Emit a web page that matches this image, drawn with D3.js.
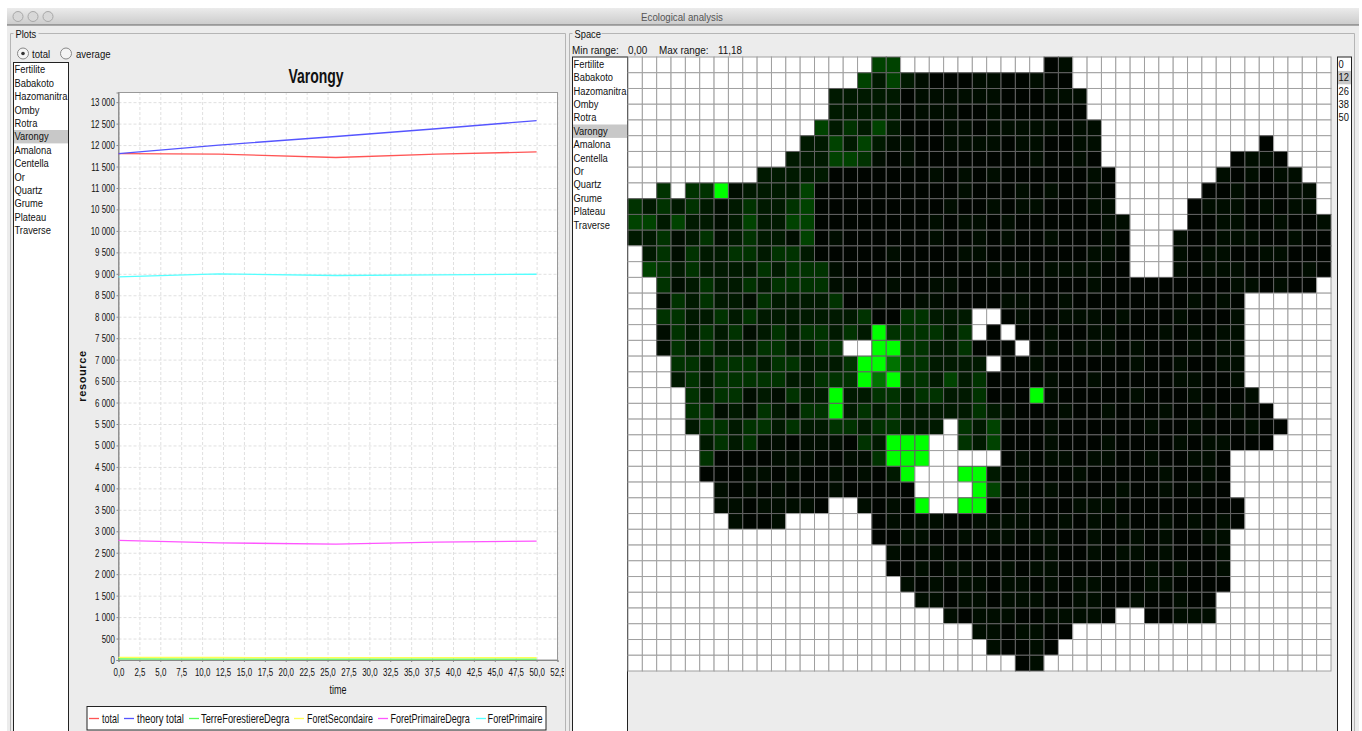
<!DOCTYPE html>
<html>
	<head>
		<meta charset="utf-8">
		<script src="https://d3js.org/d3.v7.min.js"></script>
		<style>
			body { margin: 0; background: #fff; overflow: hidden; }
			svg { display: block; }
			text { font-family: "Liberation Sans", sans-serif; fill: #111; }
			.axis path, .axis line { stroke: #888; }
			.grid line { stroke: #e0e0e0; stroke-dasharray: 3 2; }
			.grid path { display: none; }
		</style>
	</head>
	<body>
		<script>
			// Species of the two lists
			var species = ["Fertilite", "Babakoto", "Hazomanitra", "Omby", "Rotra", "Varongy", "Amalona",
			               "Centella", "Or", "Quartz", "Grume", "Plateau", "Traverse"];
			var selected = "Varongy";

			// Curves of the plot, one value per saved time step
			var times = [0, 12, 26, 38, 50];
			var total = [11800, 11790, 11710, 11790, 11840];
			var theoryTotal = [11800, 12000, 12200, 12380, 12570];
			var terreForestiereDegra = [25, 22, 20, 20, 20];
			var foretSecondaire = [60, 58, 55, 55, 56];
			var foretPrimaireDegra = [2790, 2730, 2700, 2745, 2770];
			var foretPrimaire = [8930, 9000, 8960, 8975, 8990];

			var seriesNames = ["total", "theory total", "TerreForestiereDegra", "ForetSecondaire", "ForetPrimaireDegra", "ForetPrimaire"];
			var seriesValues = [total, theoryTotal, terreForestiereDegra, foretSecondaire, foretPrimaireDegra, foretPrimaire];
			var seriesColors = ["#ff5555", "#5555ff", "#55ff55", "#ffff55", "#ff55ff", "#55ffff"];

			var yTicks = d3.range(0, 13500, 500);
			var xTicks = d3.range(0, 55, 2.5);

			// Map at time 12. "." is a cell outside the area, the other signs are read in cellValues
			var cellValues = {"0": 0.2, "1": 0.55, "2": 1.1, "3": 2.2, "4": 2.9, "5": 5, "G": 11.18};
			var spaceRows = [
				".......... .......44. .........0 1......... .........",
				".......... ......4242 1000110010 0......... .........",
				".......... ....222220 1111110001 11........ .........",
				".......... ....222220 1110010000 00........ .........",
				".......... ...4232420 0011011111 011....... .........",
				".......... ..22424211 0011110110 011....... ....0....",
				".......... .222443101 0000000010 010....... ..0110...",
				".........2 2222000000 0101010000 0010...... .101011..",
				"..3.33G122 2240000000 0001000101 0010...... 00100011.",
				"3232321232 2340000000 0010010110 0011.....0 11101011.",
				"4424221242 2440000000 0101101000 00011....0 011001001",
				"2231231232 2140100000 0100101001 00010...10 011100100",
				".231322332 3320000010 0001100000 00110...10 110011000",
				".432322223 2333100000 0000011101 11100...10 111000010",
				"..31232232 3333110010 0110000000 0010000000 00110100.",
				"..13232213 2222300100 1100001100 1000000001 010......",
				"..33223232 2222223003 3222..0100 1110100010 001......",
				"..13232312 3233232G33 3323.0.001 0011000101 011......",
				"..13232223 32233..GG3 3223000.01 0111010001 011......",
				"...3323332 332223GG53 32222.0010 0000010010 011......",
				"...2323333 322333G5G3 3242300001 0010000011 001......",
				"....323312 1322G22332 33223000G1 0000010001 0001.....",
				"....331213 2133G23232 2222321000 1001000100 10100....",
				"....233233 2322332332 22.3240001 0000001001 000100...",
				".....23231 10111032GG G..3240001 0001000010 11000....",
				".....30000 11100113GG G.....0101 1011001001 10.......",
				".....00011 010010102G ...GG20100 0100000100 10.......",
				"......1010 1000100000 ....G40101 0000100101 00.......",
				"......1101 1110..1010 G..GG00100 0111000000 000......",
				".......100 1......010 1100111100 1010100101 010......",
				".......... .......001 1001011011 0010010100 11.......",
				".......... ........10 0100000001 0010110100 01.......",
				".......... ........00 1011001011 0000001010 01.......",
				".......... .........1 0101101101 0110001100 00.......",
				".......... .......... 1101101110 0110010010 0........",
				".......... .......... ..10111001 1110..0011 1........",
				".......... .......... ....110110 0......... .........",
				".......... .......... .....10010 .......... .........",
				".......... .......... .......01. .......... ........."
			];
			var minRange = "0,00", maxRange = "11,18";
			var timeSteps = ["0", "12", "26", "38", "50"];
			var selectedStep = "12";

			var width = 1362, height = 731;

			var svg = d3.select("body").append("svg")
				.attr("width", width)
				.attr("height", height);

			// The screenshot's font is narrower than the installed ones, so text is squeezed sideways
			function label(str, px, py, size, squeeze, anchor){
				return svg.append("text")
					.attr("transform", "translate(" + px + "," + py + ") scale(" + squeeze + ",1)")
					.attr("text-anchor", anchor || "start")
					.style("font-size", size + "px")
					.text(str);
			}

			// Window
			var defs = svg.append("defs");
			var titleGrad = defs.append("linearGradient").attr("id", "titlebar")
				.attr("x1", 0).attr("y1", 0).attr("x2", 0).attr("y2", 1);
			titleGrad.append("stop").attr("offset", 0).attr("stop-color", "#ebebeb");
			titleGrad.append("stop").attr("offset", 1).attr("stop-color", "#cbcbcb");

			svg.append("rect").attr("x", 7).attr("y", 8).attr("width", 1352).attr("height", 723).attr("fill", "#ececec");
			svg.append("rect").attr("x", 7).attr("y", 8).attr("width", 1352).attr("height", 17).attr("fill", "url(#titlebar)");
			svg.append("line").attr("x1", 7).attr("x2", 1359).attr("y1", 25).attr("y2", 25).attr("stroke", "#666");
			[18, 33, 48].forEach(function(cx){
				svg.append("circle").attr("cx", cx).attr("cy", 16.5).attr("r", 5)
					.attr("fill", "#d8d8d8").attr("stroke", "#a8a8a8");
			});
			label("Ecological analysis", 682, 20.5, 11, 0.88, "middle").style("fill", "#555");

			// Titled frames
			function frame(x, w, name, labelWidth){
				svg.append("path")
					.attr("d", "M" + (x + 4) + ",33.5 H" + (x + w) + " V731 M" + x + ",731 V33.5 H" + (x + 4))
					.attr("fill", "none").attr("stroke", "#b5b5b5");
				svg.append("rect").attr("x", x + 3).attr("y", 28).attr("width", labelWidth).attr("height", 10).attr("fill", "#ececec");
				label(name, x + 5, 37.5, 11, 0.85);
			}
			frame(10.5, 555, "Plots", 25);
			frame(569.5, 785, "Space", 29);

			function listBox(x, y, w, names, current){
				svg.append("rect").attr("x", x).attr("y", y).attr("width", w).attr("height", height - y + 2)
					.attr("fill", "#fff").attr("stroke", "#222");
				names.forEach(function(name, i){
					if(name === current){
						svg.append("rect").attr("x", x + 0.5).attr("y", y + 0.5 + 13.4 * i).attr("width", w - 1).attr("height", 13.4).attr("fill", "#c8c8c8");
					}
					label(name, x + 1, y + 10.8 + 13.4 * i, 11, 0.85);
				});
			}
			listBox(13.5, 62.5, 55, species, selected);
			listBox(572.5, 57, 55, species, selected);
			listBox(1337.5, 57, 14, timeSteps, selectedStep);

			// Radio buttons
			[[23, "total", 32, true], [66, "average", 76, false]].forEach(function(r){
				svg.append("circle").attr("cx", r[0]).attr("cy", 53.5).attr("r", 5.5)
					.attr("fill", "#f4f4f4").attr("stroke", "#888");
				if(r[3]){
					svg.append("circle").attr("cx", r[0]).attr("cy", 53.5).attr("r", 1.8).attr("fill", "#333");
				}
				label(r[1], r[2], 57.5, 11, 0.87);
			});

			// Plot
			var plotLeft = 118.5, plotRight = 557.5, plotTop = 92.5, plotBottom = 660;

			var x = d3.scaleLinear().domain([0, 52.5]).range([plotLeft, plotRight]);
			var y = d3.scaleLinear().domain([0, 13225]).range([plotBottom, plotTop]);

			function frNumber(v){
				return d3.format(".1f")(v).replace(".", ",");
			}
			function spaced(v){
				return d3.format(",")(v).replace(/,/g, " ");
			}

			svg.append("rect").attr("x", plotLeft).attr("y", plotTop)
				.attr("width", plotRight - plotLeft).attr("height", plotBottom - plotTop).attr("fill", "#fff");

			svg.append("g").attr("class", "grid")
				.attr("transform", "translate(0," + plotBottom + ")")
				.call(d3.axisBottom(x).tickValues(xTicks).tickSize(plotTop - plotBottom).tickFormat(""));
			svg.append("g").attr("class", "grid")
				.attr("transform", "translate(" + plotLeft + ",0)")
				.call(d3.axisLeft(y).tickValues(yTicks).tickSize(plotLeft - plotRight).tickFormat(""));

			svg.append("rect").attr("x", plotLeft).attr("y", plotTop)
				.attr("width", plotRight - plotLeft).attr("height", plotBottom - plotTop)
				.attr("fill", "none").attr("stroke", "#999");

			// Last tick label is cut by the panel, the clip box follows the axis group's origin
			defs.append("clipPath").attr("id", "panelclip").append("rect")
				.attr("x", 70).attr("y", 0).attr("width", 494).attr("height", 30);

			var xAxis = svg.append("g").attr("class", "axis")
				.attr("clip-path", "url(#panelclip)")
				.attr("transform", "translate(0," + plotBottom + ")")
				.call(d3.axisBottom(x).tickValues(xTicks).tickSize(2).tickPadding(6).tickFormat(frNumber));
			var yAxis = svg.append("g").attr("class", "axis")
				.attr("transform", "translate(" + plotLeft + ",0)")
				.call(d3.axisLeft(y).tickValues(yTicks).tickSize(2).tickPadding(3).tickFormat(spaced));
			xAxis.selectAll("text").style("font-size", "11px").attr("transform", "scale(0.72,1)");
			yAxis.selectAll("text").style("font-size", "11px").attr("transform", "scale(0.72,1)");

			var line = d3.line()
				.x(function(d, i){ return x(times[i]); })
				.y(function(d){ return y(d); });

			seriesValues.forEach(function(values, i){
				svg.append("path").attr("d", line(values))
					.attr("fill", "none").attr("stroke", seriesColors[i]).attr("stroke-width", 1.3);
			});

			label(selected, 316, 83, 20, 0.7, "middle").style("font-weight", "bold");
			label("time", 338, 694, 12, 0.75, "middle");
			svg.append("text").attr("transform", "translate(86,376) rotate(-90)").attr("text-anchor", "middle")
				.style("font-size", "11px").style("font-weight", "bold").style("letter-spacing", "0.6px").text("resource");

			// Legend
			var legendSwatch = [89, 124, 189, 294, 378, 476];
			var legendText = [102, 137, 201, 307, 390.5, 487.6];
			var legendWidth = [17, 47, 88.5, 66, 79.5, 55];
			svg.append("rect").attr("x", 87).attr("y", 706.5).attr("width", 459).attr("height", 23.5)
				.attr("fill", "#fff").attr("stroke", "#222");
			seriesNames.forEach(function(name, i){
				svg.append("line").attr("x1", legendSwatch[i]).attr("x2", legendSwatch[i] + 10)
					.attr("y1", 718.5).attr("y2", 718.5).attr("stroke", seriesColors[i]).attr("stroke-width", 1.3);
				var t = label(name, legendText[i], 722.5, 12, 1);
				var squeeze = legendWidth[i] / t.node().getComputedTextLength();
				t.attr("transform", "translate(" + legendText[i] + ",722.5) scale(" + squeeze + ",1)");
			});

			// Range of the map
			label("Min range:", 572, 54, 11, 0.9);
			label(minRange, 628, 54, 11, 0.9);
			label("Max range:", 659, 54, 11, 0.9);
			label(maxRange, 718, 54, 11, 0.9);

			// Map
			var rows = spaceRows.map(function(row){ return row.replace(/ /g, ""); });
			var cells = [];
			rows.forEach(function(row, r){
				row.split("").forEach(function(c, col){
					cells.push({ row : r, col : col, value : (c === ".") ? null : cellValues[c] });
				});
			});

			var cellX = d3.scaleBand().domain(d3.range(49)).range([628, 1331]);
			var cellY = d3.scaleBand().domain(d3.range(39)).range([57, 671]);
			var cellColor = d3.scaleLinear().domain([0, 11.18]).range(["#000000", "#00ff00"]);

			svg.append("g").selectAll("rect").data(cells).enter().append("rect")
				.attr("x", function(d){ return cellX(d.col); })
				.attr("y", function(d){ return cellY(d.row); })
				.attr("width", cellX.bandwidth())
				.attr("height", cellY.bandwidth())
				.attr("fill", function(d){ return d.value === null ? "#fff" : cellColor(d.value); })
				.attr("stroke", function(d){ return d.value === null ? "#a0a0a0" : "#626262"; })
				.attr("stroke-width", 1);
		</script>
	</body>
</html>
